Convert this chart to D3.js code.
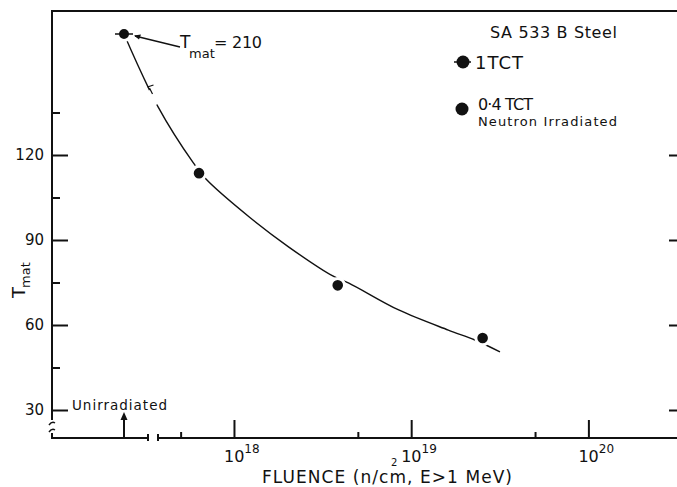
<!DOCTYPE html>
<html>
<head>
<meta charset="utf-8">
<script src="https://cdn.jsdelivr.net/npm/d3@7"></script>
<style>
  body { margin: 0; background: #fff; }
  svg { display: block; font-family: "DejaVu Sans", sans-serif; }
  .axis .domain { display: none; }
  .axis line { stroke: #111; stroke-width: 2; }
  .axis text { fill: #111; font-size: 15px; font-family: "DejaVu Sans", sans-serif; }
</style>
</head>
<body>
<div id="chart"></div>
<script>
// measured points: 1TCT unirradiated, 0.4TCT neutron irradiated
var fluence1T = [0];
var tmat1T = [210];
var fluence04T = [6.35e17, 3.85e18, 2.53e19];
var tmat04T = [113.6, 74, 55.4];

// hand drawn trend curve
var fitFluence = [0, 3.73e17, 5.9e17, 6.95e17, 1.22e18, 2.04e18, 3.61e18, 4.45e18, 8.5e18, 1.62e19, 2.29e19, 3.17e19];
var fitTmat = [210, 137, 117.2, 111.5, 98.1, 87.5, 77.3, 74.8, 65.3, 58.2, 54.7, 50.5];

var yMajorTicks = [30, 60, 90, 120];
var yMinorTicks = [45, 75, 105, 135];
var xMajorTicks = [1e18, 1e19, 1e20];
var xMinorTicks = [5e17, 5e18, 5e19];

var width = 677, height = 487;
var mLeft = 52, mTop = 11, mBottom = 438, mRight = 677;

var svg = d3.select("#chart").append("svg")
  .attr("width", width)
  .attr("height", height);

// y axis is broken above 150 so the unirradiated value fits
var yScale = d3.scaleLinear()
  .domain([30, 150, 210])
  .range([410, 70, 34]);

// x: a short piece for the unirradiated specimen, then a log axis
var xBreak = d3.scaleLinear().domain([-0.75, 0.25]).range([mLeft, 148]);
var xLog = d3.scaleLog()
  .domain([Math.pow(10, 17.56), Math.pow(10, 20.5)])
  .range([156, mRight]);

function xPos(f) { return f === 0 ? xBreak(0) : xLog(f); }

// frame drawn as thin filled bars
var frameBars = [
  [mLeft - 1, mTop - 1, 2, 421 - mTop],
  [mLeft - 1, mTop - 1, mRight - mLeft + 1, 2],
  [mLeft - 1, 433, 2, mBottom - 432],
  [mLeft - 1, mBottom - 1, 148 - mLeft + 1, 2],
  [147, mBottom - 4, 2, 7],
  [157, mBottom - 4, 2, 7],
  [157, mBottom - 1, mRight - 157, 2]
];
svg.append("g").selectAll("rect").data(frameBars).enter().append("rect")
  .attr("x", function(d) { return d[0]; })
  .attr("y", function(d) { return d[1]; })
  .attr("width", function(d) { return d[2]; })
  .attr("height", function(d) { return d[3]; })
  .attr("fill", "#111");

// y ticks
svg.append("g").attr("class", "axis")
  .attr("transform", "translate(" + mLeft + ",0)")
  .call(d3.axisLeft(yScale).tickValues(yMajorTicks).tickSize(-16).tickPadding(8).tickFormat(d3.format("d")));
svg.append("g").attr("class", "axis")
  .attr("transform", "translate(" + mLeft + ",0)")
  .call(d3.axisLeft(yScale).tickValues(yMinorTicks).tickSize(-8).tickFormat(""));
svg.append("g").attr("class", "axis")
  .attr("transform", "translate(" + mRight + ",0)")
  .call(d3.axisLeft(yScale).tickValues(yMajorTicks).tickSize(8).tickFormat(""));

// x ticks
svg.append("g").attr("class", "axis")
  .attr("transform", "translate(0," + mBottom + ")")
  .call(d3.axisBottom(xLog).tickValues(xMajorTicks).tickSize(-18).tickFormat(""));
svg.append("g").attr("class", "axis")
  .attr("transform", "translate(0," + mBottom + ")")
  .call(d3.axisBottom(xLog).tickValues(xMinorTicks).tickSize(-6).tickFormat(""));

// y break marks
svg.append("path")
  .attr("d", "M" + (mLeft - 3) + ",425 q3,-4 6,-2 M" + (mLeft - 3) + ",432 q3,-4 6,-2")
  .attr("fill", "none").attr("stroke", "#111").attr("stroke-width", 1.5);

// x tick labels as 10 with superscript
var xl = svg.append("g").attr("font-size", 16).attr("fill", "#111");
xMajorTicks.forEach(function(v) {
  var t = xl.append("text").attr("x", xLog(v) - 10).attr("y", 462).attr("text-anchor", "start");
  t.append("tspan").text("10");
  t.append("tspan").attr("dy", -9).attr("font-size", 12).text(String(Math.round(Math.log10(v))));
});

// axis titles
svg.append("text").attr("x", 262).attr("y", 483).attr("font-size", 17).attr("fill", "#111")
  .attr("textLength", 250).attr("lengthAdjust", "spacing")
  .text("FLUENCE (n/cm,  E>1 MeV)");
svg.append("text").attr("x", 391).attr("y", 466).attr("font-size", 10).attr("fill", "#111").text("2");

var yt = svg.append("text").attr("transform", "translate(25,298) rotate(-90)").attr("fill", "#111");
yt.append("tspan").attr("font-size", 18).text("T");
yt.append("tspan").attr("font-size", 13).attr("dy", 5).attr("dx", -1).text("mat");

// unirradiated marker on x axis
svg.append("text").attr("x", 72).attr("y", 410).attr("font-size", 13.5).attr("fill", "#111")
  .attr("textLength", 95).attr("lengthAdjust", "spacing").text("Unirradiated");
svg.append("line").attr("x1", xBreak(0)).attr("x2", xBreak(0)).attr("y1", mBottom).attr("y2", 418)
  .attr("stroke", "#111").attr("stroke-width", 2);
svg.append("path")
  .attr("d", "M" + (xBreak(0) - 3.5) + ",420L" + xBreak(0) + ",412L" + (xBreak(0) + 3.5) + ",420Z")
  .attr("fill", "#111");

// trend curve
var fit = fitFluence.map(function(f, i) { return [f, fitTmat[i]]; });
var line = d3.line()
  .x(function(d) { return xPos(d[0]); })
  .y(function(d) { return yScale(d[1]); })
  .curve(d3.curveCatmullRom.alpha(0.5));
var curve = svg.append("path").datum(fit)
  .attr("d", line)
  .attr("fill", "none")
  .attr("stroke", "#111")
  .attr("stroke-width", 1.4);

// gap in the curve where the y axis is broken
var node = curve.node();
var total = node.getTotalLength();
var gapTop = yScale(143), gapBottom = yScale(138);
var a = 0, b = 0;
for (var s = 0; s <= total; s += 0.5) {
  var p = node.getPointAtLength(s);
  if (!a && p.y >= gapTop) a = s;
  if (!b && p.y >= gapBottom) { b = s; break; }
}
curve.attr("stroke-dasharray", a + " " + (b - a) + " " + total);
var pa = node.getPointAtLength(a);
svg.append("path")
  .attr("d", "M" + (pa.x - 2) + "," + (pa.y - 3) + "l6,-2 M" + pa.x + "," + (pa.y - 2) + "l3,6")
  .attr("stroke", "#111").attr("stroke-width", 1.2).attr("fill", "none");

// points
var pts04 = fluence04T.map(function(f, i) { return [f, tmat04T[i]]; });
svg.append("g").selectAll("circle").data(pts04).enter().append("circle")
  .attr("cx", function(d) { return xPos(d[0]); })
  .attr("cy", function(d) { return yScale(d[1]); })
  .attr("r", 6.8)
  .attr("fill", "#111")
  .attr("stroke", "#fff")
  .attr("stroke-width", 3);

var pts1 = fluence1T.map(function(f, i) { return [f, tmat1T[i]]; });
var g1 = svg.append("g").selectAll("g").data(pts1).enter().append("g")
  .attr("transform", function(d) { return "translate(" + xPos(d[0]) + "," + yScale(d[1]) + ")"; });
g1.append("circle").attr("r", 6.5).attr("fill", "#111").attr("stroke", "#fff").attr("stroke-width", 3);
g1.append("line").attr("x1", -9).attr("x2", 9).attr("stroke", "#111").attr("stroke-width", 1.5);

// annotation for the unirradiated value
var ax = xPos(fluence1T[0]), ay = yScale(tmat1T[0]);
svg.append("line").attr("x1", 180).attr("y1", 47).attr("x2", ax + 11).attr("y2", ay + 2)
  .attr("stroke", "#111").attr("stroke-width", 1.3);
svg.append("path")
  .attr("d", "M" + (ax + 10) + "," + (ay + 1.5) + "l7,-1 l-2,5z").attr("fill", "#111");
svg.append("text").attr("x", 180).attr("y", 48).attr("font-size", 17).attr("fill", "#111").text("T");
svg.append("text").attr("x", 189).attr("y", 58).attr("font-size", 13).attr("fill", "#111").text("mat");
svg.append("text").attr("x", 214).attr("y", 48).attr("font-size", 16).attr("fill", "#111")
  .attr("textLength", 48).attr("lengthAdjust", "spacing").text("= " + tmat1T[0]);

// legend
var lg = svg.append("g").attr("fill", "#111");
lg.append("text").attr("x", 490).attr("y", 38).attr("font-size", 16)
  .attr("textLength", 127).attr("lengthAdjust", "spacing").text("SA 533 B Steel");
lg.append("circle").attr("cx", 463).attr("cy", 62).attr("r", 6.5);
lg.append("line").attr("x1", 454).attr("x2", 471).attr("y1", 62).attr("y2", 62).attr("stroke", "#111").attr("stroke-width", 1.5);
lg.append("text").attr("x", 475).attr("y", 69).attr("font-size", 18)
  .attr("textLength", 48).attr("lengthAdjust", "spacing").text("1TCT");
lg.append("circle").attr("cx", 462).attr("cy", 109).attr("r", 6.5);
lg.append("text").attr("x", 478).attr("y", 110).attr("font-size", 16)
  .attr("textLength", 55).attr("lengthAdjust", "spacing").text("0·4 TCT");
lg.append("text").attr("x", 478).attr("y", 126).attr("font-size", 13)
  .attr("textLength", 139).attr("lengthAdjust", "spacing").text("Neutron Irradiated");
</script>
</body>
</html>
